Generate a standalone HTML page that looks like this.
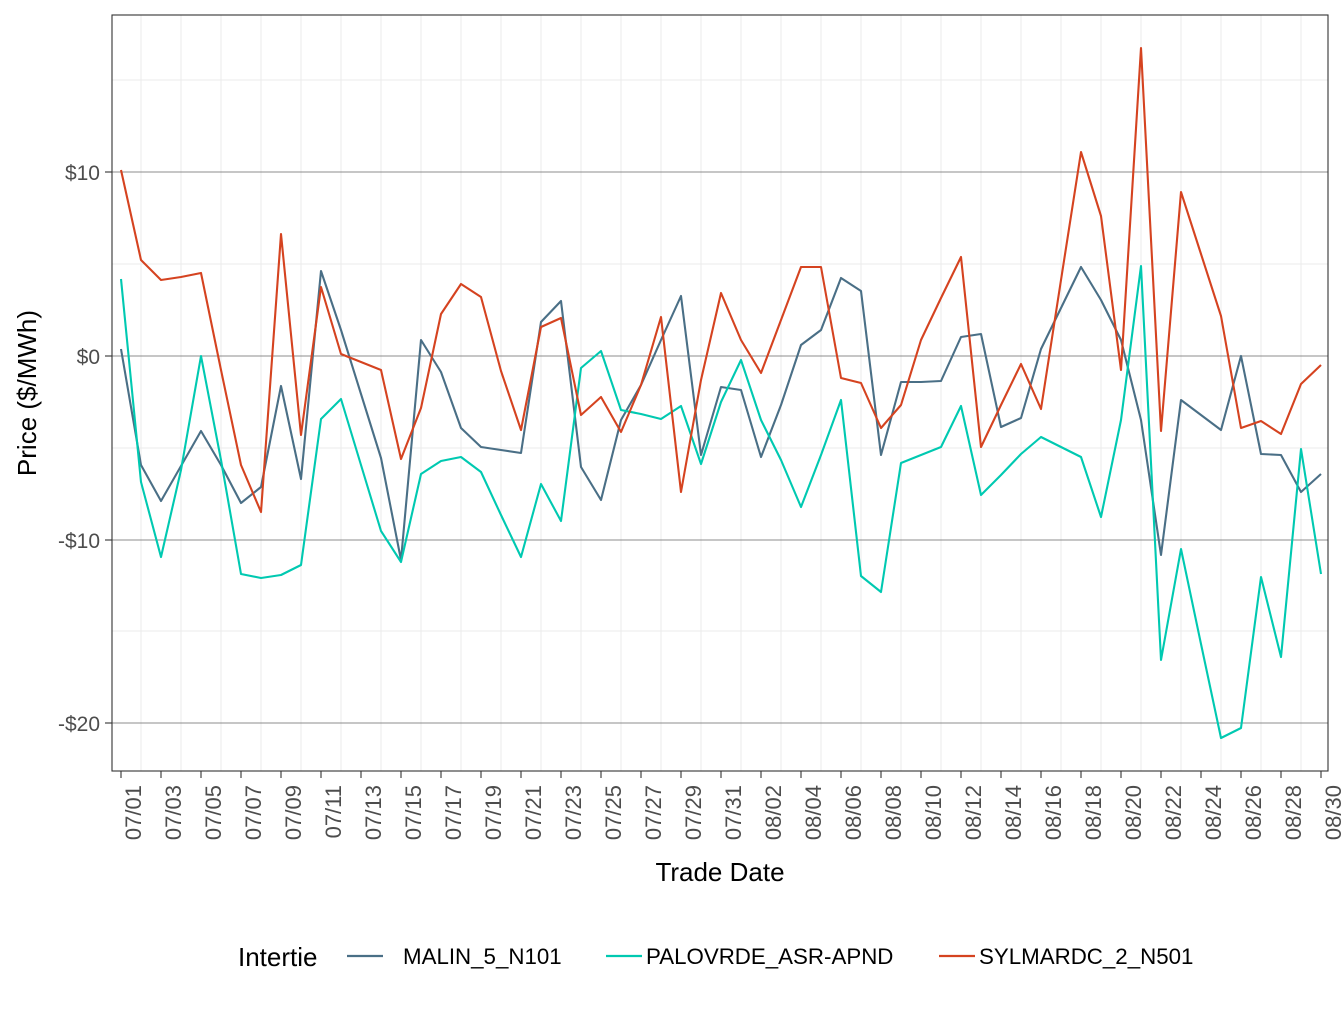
<!DOCTYPE html>
<html><head><meta charset="utf-8"><style>
body{margin:0;background:#fff;width:1344px;height:1008px;overflow:hidden}
text{font-family:"Liberation Sans",sans-serif}
</style></head><body>
<svg id="s" width="1344" height="1008" xmlns="http://www.w3.org/2000/svg">
<rect width="1344" height="1008" fill="#fff"/>
<g id="grid"></g>
<g id="lines" fill="none" stroke-width="2.1" stroke-linejoin="round"></g>
<rect x="112" y="15" width="1216" height="756" fill="none" stroke="#333" stroke-width="1.1"/>
<g font-size="21" fill="#4d4d4d" text-anchor="end">
<text x="100" y="180">$10</text><text x="100" y="364">$0</text>
<text x="100" y="548">-$10</text><text x="100" y="731">-$20</text>
</g>
<g stroke="#333" stroke-width="1.1">
<line x1="105" y1="172" x2="112" y2="172"/><line x1="105" y1="356" x2="112" y2="356"/>
<line x1="105" y1="540" x2="112" y2="540"/><line x1="105" y1="723" x2="112" y2="723"/>
</g>
<g id="xt"></g>
<text x="720" y="881" font-size="26" text-anchor="middle" fill="#000">Trade Date</text>
<text transform="translate(36,393) rotate(-90)" font-size="26" text-anchor="middle" fill="#000">Price ($/MWh)</text>
<text x="238" y="966" font-size="26" fill="#000">Intertie</text>
<line x1="347" y1="956" x2="383" y2="956" stroke="#4a6f86" stroke-width="2.2"/>
<text x="403" y="964" font-size="22.3" fill="#000">MALIN_5_N101</text>
<line x1="606" y1="956" x2="642" y2="956" stroke="#00c9b1" stroke-width="2.2"/>
<text x="646" y="964" font-size="22.3" fill="#000">PALOVRDE_ASR-APND</text>
<line x1="939" y1="956" x2="975" y2="956" stroke="#d54320" stroke-width="2.2"/>
<text x="979" y="964" font-size="22.3" fill="#000">SYLMARDC_2_N501</text>
</svg>
<script>
const NS="http://www.w3.org/2000/svg";
function el(p,t,a,txt){const e=document.createElementNS(NS,t);for(const k in a)e.setAttribute(k,a[k]);if(txt)e.textContent=txt;p.appendChild(e);return e;}
const g=document.getElementById('grid');
for(let x=141;x<1328;x+=40)el(g,'line',{x1:x,y1:15,x2:x,y2:771,stroke:'#ebebeb','stroke-width':1});
[80,264,448,631].forEach(y=>el(g,'line',{x1:112,y1:y,x2:1328,y2:y,stroke:'#ebebeb','stroke-width':1}));
[172,356,540,723].forEach(y=>el(g,'line',{x1:112,y1:y,x2:1328,y2:y,stroke:'#8c8c8c','stroke-width':1.1}));
const xt=document.getElementById('xt');
for(let i=0;i<=60;i+=2){const x=121+20*i;const d=new Date(2021,6,1+i);
const lab=String(d.getMonth()+1).padStart(2,'0')+'/'+String(d.getDate()).padStart(2,'0');
el(xt,'line',{x1:x,y1:771,x2:x,y2:778,stroke:'#333','stroke-width':1.1});
el(xt,'text',{transform:`translate(${x+20},785) rotate(-90)`,'font-size':22,fill:'#4d4d4d','text-anchor':'end'},lab);}
const M=[349,465,501,466,431,465,503,487,386,479,271,330,394,458,560,340,372,428,447,450,453,322,301,467,500,420,385,340,296,455,387,390,457,405,345,330,278,291,455,382,382,381,337,334,427,418,349,308,267,300,340,420,555,400,415,430,356,454,455,492,474];
const P=[279,482,557,470,356,460,574,578,575,565,419,399,465,531,562,474,461,457,472,515,557,484,521,368,351,410,414,419,406,464,402,360,420,460,507,455,400,576,592,463,455,447,406,495,475,454,437,447,457,517,420,266,660,549,644,738,728,577,657,449,574];
const S=[170,260,280,277,273,370,465,512,234,435,287,354,362,370,459,408,314,284,297,371,430,327,318,415,397,432,385,317,492,380,293,340,373,320,267,267,378,383,428,405,340,298,257,447,405,364,409,280,152,216,370,48,431,192,254,316,428,421,434,384,365];
const L=document.getElementById('lines');
[[M,'#4a6f86'],[P,'#00c9b1'],[S,'#d54320']].forEach(([a,c])=>{
el(L,'polyline',{points:a.map((y,i)=>(121+20*i)+','+y).join(' '),stroke:c});});
</script>
</body></html>
